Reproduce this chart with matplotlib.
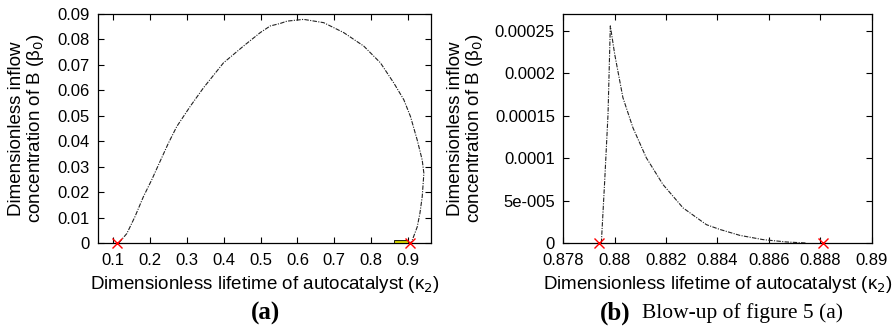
import numpy as np
import matplotlib
matplotlib.use('Agg')
import matplotlib.pyplot as plt
from matplotlib.patches import Rectangle

# panel (a): full boundary curve
KAPPA_A = [0.115, 0.137, 0.159, 0.182, 0.2045, 0.227, 0.2497, 0.2726, 0.309, 0.345,
           0.3992, 0.4535, 0.499, 0.526, 0.5533, 0.5715, 0.6167, 0.671, 0.7253, 0.7797,
           0.825, 0.8612, 0.8884, 0.9065, 0.9247, 0.9383, 0.9428, 0.9383, 0.932, 0.9247,
           0.911, 0.9066]
BETA_A = [0.0, 0.0037, 0.0103, 0.0182, 0.0248, 0.032, 0.0392, 0.0458, 0.0537, 0.061,
          0.0708, 0.0774, 0.0827, 0.0853, 0.0863, 0.0872, 0.0879, 0.0866, 0.0827, 0.0774,
          0.0708, 0.0629, 0.0563, 0.0497, 0.0405, 0.0326, 0.0274, 0.0182, 0.0116, 0.0063,
          0.001, 0.0]
MARK_A = [0.111, 0.905]
BOX_A = (0.861, 0.899, 0.001)  # x0, x1, height of the blow-up region

# panel (b): blow-up near kappa2 = 0.88
KAPPA_B = [0.87948, 0.87961, 0.87974, 0.87983, 0.88000, 0.88032, 0.88071, 0.88123,
           0.88188, 0.88266, 0.88357, 0.88409, 0.88487, 0.88577, 0.88669, 0.88746]
BETA_B = [0.0, 0.0000728, 0.0001517, 0.000256, 0.0002226, 0.0001714, 0.0001359,
          0.0001005, 0.0000689, 0.0000414, 0.0000216, 0.0000160, 0.0000090, 0.0000040,
          0.0000012, 0.0]
MARK_B = [0.87939, 0.88809]

plt.rcParams['font.family'] = ['Liberation Sans', 'DejaVu Sans']

fig = plt.figure(figsize=(8.93, 3.26), dpi=100)
ax1 = fig.add_axes([0.1100, 0.2546, 0.3730, 0.7024])
ax2 = fig.add_axes([0.6308, 0.2546, 0.3453, 0.7024])

dash = (0, (4, 1.2, 1, 1.2))
ylabel = 'Dimensionless inflow\nconcentration of B (β$_0$)'
xlabel = 'Dimensionless lifetime of autocatalyst (κ$_2$)'

# (a)
ax1.plot(KAPPA_A, BETA_A, color='#222222', lw=0.8, linestyle=dash)
ax1.add_patch(Rectangle((BOX_A[0], 0), BOX_A[1] - BOX_A[0], BOX_A[2],
                        facecolor='#c8c800', edgecolor='black', lw=0.6, zorder=3))
ax1.plot(MARK_A, [0, 0], 'x', color='red', ms=7, mew=1.0, clip_on=False, zorder=4)
ax1.set_xlim(0.0595, 0.963)
ax1.set_ylim(0, 0.09)
xt = np.arange(0.1, 0.95, 0.1)
ax1.set_xticks(xt)
ax1.set_xticklabels(['%g' % round(v, 1) for v in xt])
yt = np.arange(0, 0.0901, 0.01)
ax1.set_yticks(yt)
ax1.set_yticklabels(['0'] + ['%.2f' % v for v in yt[1:]])
ax1.yaxis.set_label_coords(-0.213, 0.5)
ax1.xaxis.set_label_coords(0.492, -0.183)

# (b)
ax2.plot(KAPPA_B, BETA_B, color='#222222', lw=0.8, linestyle=dash)
ax2.plot(MARK_B, [0, 0], 'x', color='red', ms=7, mew=1.0, clip_on=False, zorder=4)
ax2.set_xlim(0.878, 0.89)
ax2.set_ylim(0, 0.00027)
ax2.set_xticks([0.878, 0.88, 0.882, 0.884, 0.886, 0.888, 0.89])
ax2.set_xticklabels(['0.878', '0.88', '0.882', '0.884', '0.886', '0.888', '0.89'])
ax2.set_yticks([0, 0.00005, 0.0001, 0.00015, 0.0002, 0.00025])
ax2.set_yticklabels(['0', '5e-005', '0.0001', '0.00015', '0.0002', '0.00025'])
ax2.yaxis.set_label_coords(-0.316, 0.5)
ax2.xaxis.set_label_coords(0.5, -0.183)

for ax in (ax1, ax2):
    ax.tick_params(direction='in', top=True, right=True, length=4, width=0.8,
                   labelsize=12)
    ax.tick_params(axis='x', pad=7)
    ax.tick_params(axis='y', pad=6)
    for s in ax.spines.values():
        s.set_linewidth(0.9)
    ax.set_xlabel(xlabel, fontsize=13.5, va='center')
    ax.set_ylabel(ylabel, fontsize=13.5, linespacing=1.0, va='center')

fig.text(0.297, 0.04, '(a)', fontsize=18, fontweight='bold', family='Liberation Serif',
         ha='center', va='center')
fig.text(0.689, 0.04, '(b)', fontsize=18, fontweight='bold', family='Liberation Serif',
         ha='center', va='center')
fig.text(0.719, 0.04, 'Blow-up of figure 5 (a)', fontsize=15.5, family='Liberation Serif',
         ha='left', va='center')

fig.savefig('out.png', dpi=100)
